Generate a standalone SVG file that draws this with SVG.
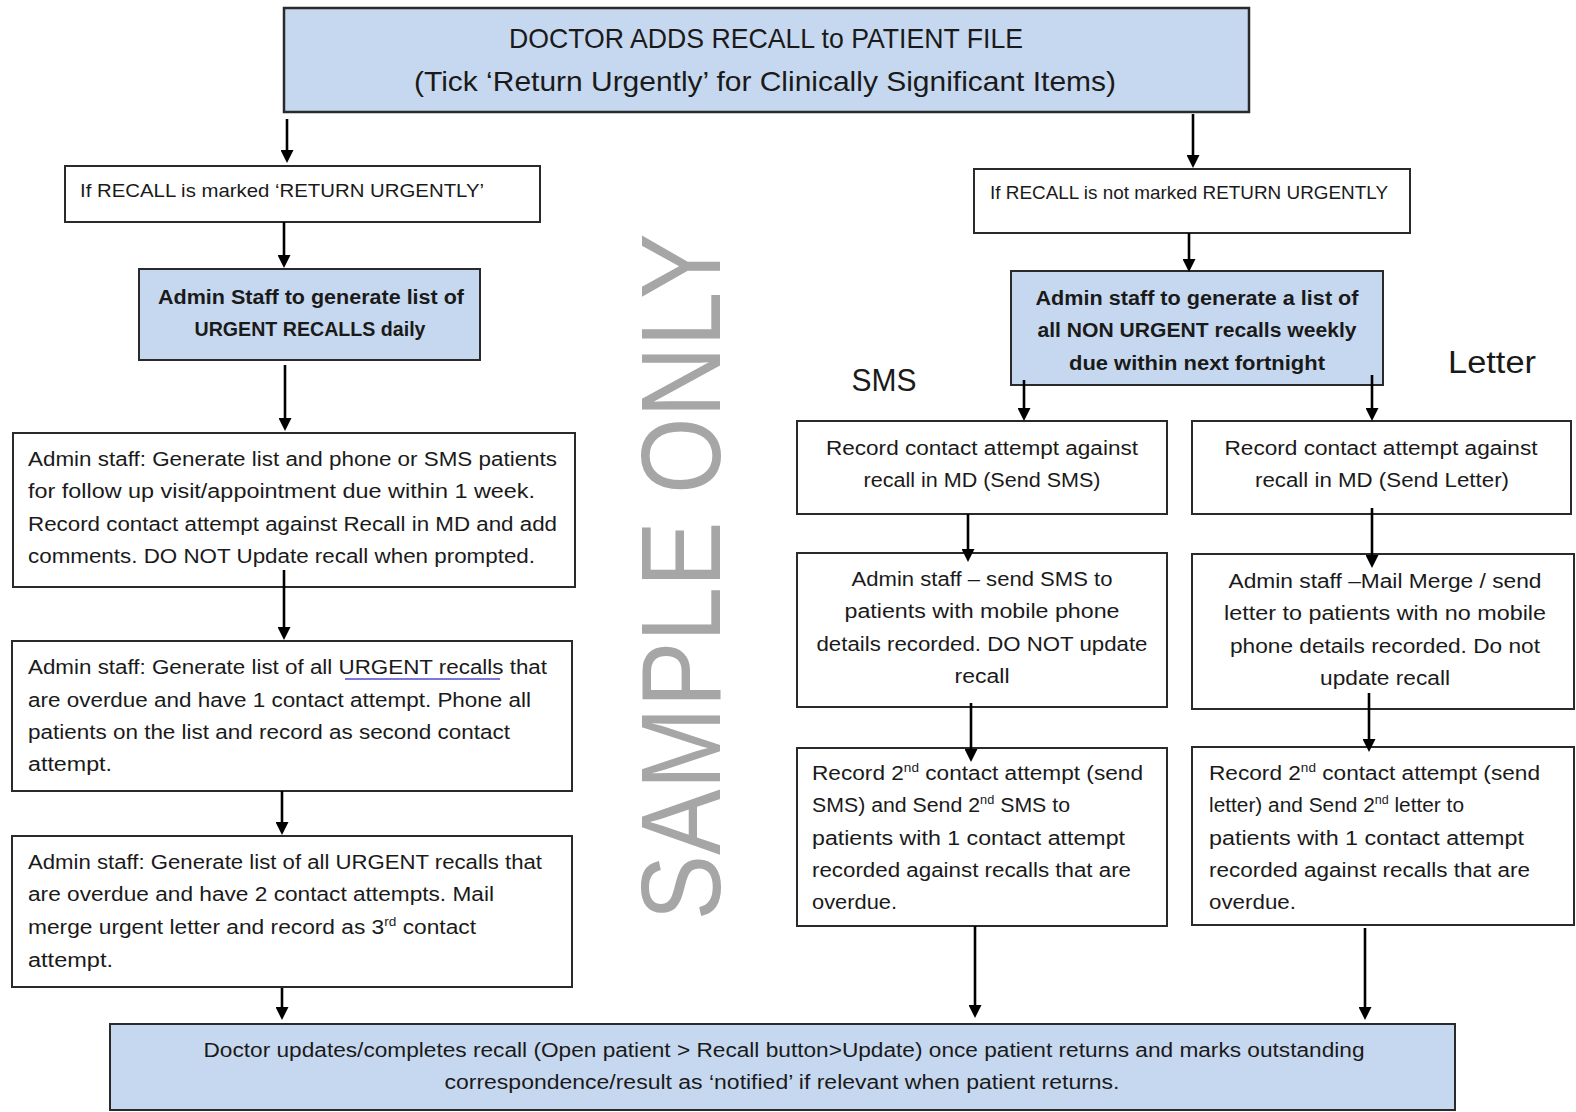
<svg xmlns="http://www.w3.org/2000/svg" width="1576" height="1112" viewBox="0 0 1576 1112">
<style>
.box{fill:#ffffff;stroke:#2a2a2a;stroke-width:2}
.blue{fill:#c6d8ef;stroke:#2a2a2a;stroke-width:2}
.t{font-family:"Liberation Sans",Arial,sans-serif;font-size:20px;fill:#1a1a1a}
.c{text-anchor:middle}
.b{font-weight:bold}
.big{font-size:28px}
.lbl{font-size:31px}
.sup{font-size:12px}
.conn line{stroke:#000;stroke-width:2.6}
.wm{font-family:"Liberation Sans",Arial,sans-serif;font-size:113px;fill:#a6a6a6;text-anchor:middle}
</style>
<defs>
<marker id="ah" markerUnits="userSpaceOnUse" markerWidth="14" markerHeight="13" refX="3" refY="6.5" orient="auto">
<path d="M0,0 L13,6.5 L0,13 z" fill="#000"/>
</marker>
</defs>
<rect width="1576" height="1112" fill="#ffffff"/>

<text class="wm" transform="translate(720,577) rotate(-90)" textLength="687" lengthAdjust="spacingAndGlyphs">SAMPLE ONLY</text>

<g id="n-top">
<rect class="blue" x="284" y="8" width="965" height="104" style="stroke-width:2.5"/>
<text class="t c big" x="766" y="48" textLength="514" lengthAdjust="spacingAndGlyphs">DOCTOR ADDS RECALL to PATIENT FILE</text>
<text class="t c big" x="765" y="91" textLength="702" lengthAdjust="spacingAndGlyphs">(Tick ‘Return Urgently’ for Clinically Significant Items)</text>
</g>

<g id="n-urgent-if">
<rect class="box" x="65" y="166" width="475" height="56"/>
<text class="t" x="80" y="197" style="font-size:19px" textLength="404" lengthAdjust="spacingAndGlyphs">If RECALL is marked ‘RETURN URGENTLY’</text>
</g>

<g id="n-nonurgent-if">
<rect class="box" x="974" y="169" width="436" height="64"/>
<text class="t" x="990" y="199" style="font-size:19px" textLength="398" lengthAdjust="spacingAndGlyphs">If RECALL is not marked RETURN URGENTLY</text>
</g>

<g id="n-urgent-list">
<rect class="blue" x="139" y="269" width="341" height="91"/>
<text class="t c b" x="311" y="304" textLength="306" lengthAdjust="spacingAndGlyphs">Admin Staff to generate list of</text>
<text class="t c b" x="310" y="336" textLength="231" lengthAdjust="spacingAndGlyphs">URGENT RECALLS daily</text>
</g>

<g id="n-urgent-1">
<rect class="box" x="13" y="433" width="562" height="154"/>
<text class="t" x="28" y="466" textLength="529" lengthAdjust="spacingAndGlyphs">Admin staff: Generate list and phone or SMS patients</text>
<text class="t" x="28" y="498" textLength="507" lengthAdjust="spacingAndGlyphs">for follow up visit/appointment due within 1 week.</text>
<text class="t" x="28" y="531" textLength="529" lengthAdjust="spacingAndGlyphs">Record contact attempt against Recall in MD and add</text>
<text class="t" x="28" y="563" textLength="507" lengthAdjust="spacingAndGlyphs">comments. DO NOT Update recall when prompted.</text>
</g>

<g id="n-urgent-2">
<rect class="box" x="12" y="641" width="560" height="150"/>
<text class="t" x="28" y="674" textLength="519" lengthAdjust="spacingAndGlyphs">Admin staff: Generate list of all URGENT  recalls that</text>
<line x1="345" y1="679" x2="500" y2="679" stroke="#4a4ad0" stroke-width="1.5"/>
<text class="t" x="28" y="707" textLength="503" lengthAdjust="spacingAndGlyphs">are overdue and have 1 contact attempt. Phone all</text>
<text class="t" x="28" y="739" textLength="482" lengthAdjust="spacingAndGlyphs">patients on the list and record as second contact</text>
<text class="t" x="28" y="771" textLength="84" lengthAdjust="spacingAndGlyphs">attempt.</text>
</g>

<g id="n-urgent-3">
<rect class="box" x="12" y="836" width="560" height="151"/>
<text class="t" x="28" y="869" textLength="514" lengthAdjust="spacingAndGlyphs">Admin staff: Generate list of all URGENT recalls that</text>
<text class="t" x="28" y="901" textLength="466" lengthAdjust="spacingAndGlyphs">are overdue and have 2 contact attempts. Mail</text>
<text class="t" x="28" y="934" textLength="448" lengthAdjust="spacingAndGlyphs">merge urgent letter and record as 3<tspan class="sup" dy="-8">rd</tspan><tspan dy="8"> contact</tspan></text>
<text class="t" x="28" y="967" textLength="85" lengthAdjust="spacingAndGlyphs">attempt.</text>
</g>

<g id="n-nonurgent-list">
<rect class="blue" x="1011" y="271" width="372" height="114"/>
<text class="t c b" x="1197" y="305" textLength="323" lengthAdjust="spacingAndGlyphs">Admin staff to generate a list of</text>
<text class="t c b" x="1197" y="337" textLength="319" lengthAdjust="spacingAndGlyphs">all NON URGENT recalls weekly</text>
<text class="t c b" x="1197" y="370" textLength="256" lengthAdjust="spacingAndGlyphs">due within next fortnight</text>
</g>

<g id="label-sms">
<text class="t c lbl" x="884" y="391" textLength="65" lengthAdjust="spacingAndGlyphs">SMS</text>
</g>
<g id="label-letter">
<text class="t c lbl" x="1492" y="373" textLength="88" lengthAdjust="spacingAndGlyphs">Letter</text>
</g>

<g id="n-sms-1">
<rect class="box" x="797" y="421" width="370" height="93"/>
<text class="t c" x="982" y="455" textLength="312" lengthAdjust="spacingAndGlyphs">Record contact attempt against</text>
<text class="t c" x="982" y="487" textLength="237" lengthAdjust="spacingAndGlyphs">recall in MD (Send SMS)</text>
</g>

<g id="n-letter-1">
<rect class="box" x="1192" y="421" width="379" height="93"/>
<text class="t c" x="1381" y="455" textLength="313" lengthAdjust="spacingAndGlyphs">Record contact attempt against</text>
<text class="t c" x="1382" y="487" textLength="254" lengthAdjust="spacingAndGlyphs">recall in MD (Send Letter)</text>
</g>

<g id="n-sms-2">
<rect class="box" x="797" y="553" width="370" height="154"/>
<text class="t c" x="982" y="586" textLength="261" lengthAdjust="spacingAndGlyphs">Admin staff – send SMS to</text>
<text class="t c" x="982" y="618" textLength="275" lengthAdjust="spacingAndGlyphs">patients with mobile phone</text>
<text class="t c" x="982" y="651" textLength="331" lengthAdjust="spacingAndGlyphs">details recorded. DO NOT update</text>
<text class="t c" x="982" y="683" textLength="55" lengthAdjust="spacingAndGlyphs">recall</text>
</g>

<g id="n-letter-2">
<rect class="box" x="1192" y="554" width="382" height="155"/>
<text class="t c" x="1385" y="588" textLength="313" lengthAdjust="spacingAndGlyphs">Admin staff –Mail Merge / send</text>
<text class="t c" x="1385" y="620" textLength="322" lengthAdjust="spacingAndGlyphs">letter to patients with no mobile</text>
<text class="t c" x="1385" y="653" textLength="310" lengthAdjust="spacingAndGlyphs">phone details recorded. Do not</text>
<text class="t c" x="1385" y="685" textLength="130" lengthAdjust="spacingAndGlyphs">update recall</text>
</g>

<g id="n-sms-3">
<rect class="box" x="797" y="748" width="370" height="178"/>
<text class="t" x="812" y="780" textLength="331" lengthAdjust="spacingAndGlyphs">Record 2<tspan class="sup" dy="-8">nd</tspan><tspan dy="8"> contact attempt (send</tspan></text>
<text class="t" x="812" y="812" textLength="258" lengthAdjust="spacingAndGlyphs">SMS) and Send 2<tspan class="sup" dy="-8">nd</tspan><tspan dy="8"> SMS to</tspan></text>
<text class="t" x="812" y="845" textLength="313" lengthAdjust="spacingAndGlyphs">patients with 1 contact attempt</text>
<text class="t" x="812" y="877" textLength="319" lengthAdjust="spacingAndGlyphs">recorded against recalls that are</text>
<text class="t" x="812" y="909" textLength="85" lengthAdjust="spacingAndGlyphs">overdue.</text>
</g>

<g id="n-letter-3">
<rect class="box" x="1192" y="747" width="382" height="178"/>
<text class="t" x="1209" y="780" textLength="331" lengthAdjust="spacingAndGlyphs">Record 2<tspan class="sup" dy="-8">nd</tspan><tspan dy="8"> contact attempt (send</tspan></text>
<text class="t" x="1209" y="812" textLength="255" lengthAdjust="spacingAndGlyphs">letter) and Send 2<tspan class="sup" dy="-8">nd</tspan><tspan dy="8"> letter to</tspan></text>
<text class="t" x="1209" y="845" textLength="315" lengthAdjust="spacingAndGlyphs">patients with 1 contact attempt</text>
<text class="t" x="1209" y="877" textLength="321" lengthAdjust="spacingAndGlyphs">recorded against recalls that are</text>
<text class="t" x="1209" y="909" textLength="87" lengthAdjust="spacingAndGlyphs">overdue.</text>
</g>

<g id="n-bottom">
<rect class="blue" x="110" y="1024" width="1345" height="86"/>
<text class="t c" x="784" y="1057" textLength="1161" lengthAdjust="spacingAndGlyphs">Doctor updates/completes recall (Open patient &gt; Recall button&gt;Update) once patient returns and marks outstanding</text>
<text class="t c" x="782" y="1089" textLength="675" lengthAdjust="spacingAndGlyphs">correspondence/result as ‘notified’ if relevant when patient returns.</text>
</g>

<g id="connectors" class="conn">
<line x1="287" y1="119" x2="287" y2="153" marker-end="url(#ah)"/>
<line x1="1193" y1="114" x2="1193" y2="158" marker-end="url(#ah)"/>
<line x1="284" y1="222" x2="284" y2="258" marker-end="url(#ah)"/>
<line x1="285" y1="365" x2="285" y2="421" marker-end="url(#ah)"/>
<line x1="284" y1="570" x2="284" y2="630" marker-end="url(#ah)"/>
<line x1="282" y1="791" x2="282" y2="825" marker-end="url(#ah)"/>
<line x1="282" y1="988" x2="282" y2="1010" marker-end="url(#ah)"/>
<line x1="1189" y1="233" x2="1189" y2="262" marker-end="url(#ah)"/>
<line x1="1024" y1="380" x2="1024" y2="411" marker-end="url(#ah)"/>
<line x1="1372" y1="375" x2="1372" y2="411" marker-end="url(#ah)"/>
<line x1="968" y1="514" x2="968" y2="552" marker-end="url(#ah)"/>
<line x1="1372" y1="508" x2="1372" y2="558" marker-end="url(#ah)"/>
<line x1="971" y1="703" x2="971" y2="752" marker-end="url(#ah)"/>
<line x1="1369" y1="693" x2="1369" y2="742" marker-end="url(#ah)"/>
<line x1="975" y1="926" x2="975" y2="1008" marker-end="url(#ah)"/>
<line x1="1365" y1="928" x2="1365" y2="1010" marker-end="url(#ah)"/>
</g>
</svg>
